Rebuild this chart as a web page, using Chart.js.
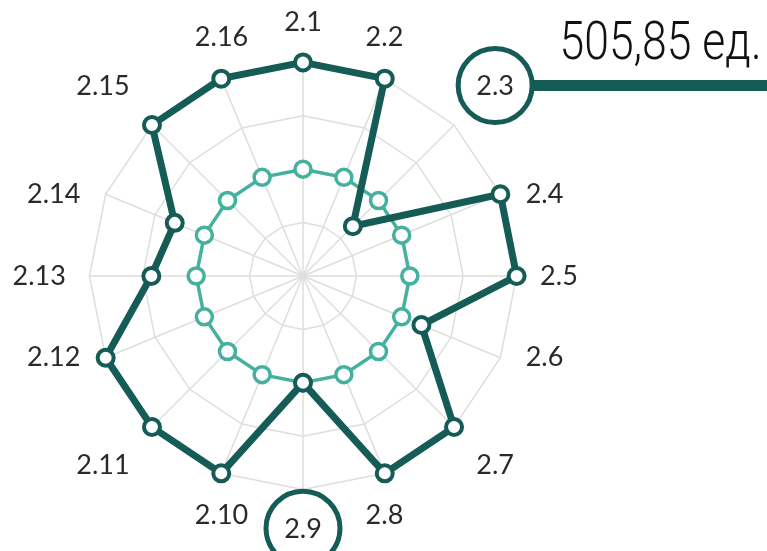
<!DOCTYPE html>
<html>
<head>
<meta charset="utf-8">
<script src="https://cdn.jsdelivr.net/npm/chart.js@4.4.1/dist/chart.umd.min.js"></script>
<style>
  html, body { margin: 0; padding: 0; background: #ffffff; }
  #wrap { position: relative; width: 767px; height: 551px; overflow: hidden; }
  #chart { position: absolute; left: 0; top: 0; }
  #note {
    position: absolute; right: 5px; top: 15px;
    font-family: Roboto, "Open Sans", sans-serif; font-weight: 300;
    font-size: 53px; line-height: 53px; color: #111;
    white-space: nowrap; transform: scaleX(0.84); transform-origin: right top;
  }
</style>
</head>
<body>
<div id="wrap">
  <canvas id="chart" width="767" height="551"></canvas>
  <div id="note">505,85 ед.</div>
</div>
<script>
const categories = ["2.1","2.2","2.3","2.4","2.5","2.6","2.7","2.8","2.9","2.10","2.11","2.12","2.13","2.14","2.15","2.16"];
const actualValues = [100, 100, 33, 100, 100, 60, 100, 100, 50, 100, 100, 100, 71, 65, 100, 100];
const baseValues   = [50, 50, 50, 50, 50, 50, 50, 50, 50, 50, 50, 50, 50, 50, 50, 50];
const highlighted  = ["2.3", "2.9"];
const scaleMax = 100;
const scaleStep = 25;

const DARK = '#165c56';
const TEAL = '#43b19e';

// Re-place point labels (Excel-like placement: centred on near-vertical axes,
// beside near-horizontal axes), starting from the scale's own geometry.
function placeLabels(scale) {
  const items = scale._pointLabelItems;
  if (!items) return;
  const n = items.length;
  items.forEach((it, i) => {
    const w = it.right - it.left;
    const h = it.bottom - it.top;
    const theta = (Math.PI * 2 * i) / n;           // from top, clockwise
    const s = Math.sin(theta), c = Math.cos(theta);
    const thetaEff = theta - 0.042 * Math.sin(4 * theta);
    const diag = Math.max(0, Math.abs(Math.sin(2 * theta)) - 0.8) / 0.2;
    const dist = scale.drawingArea + 23.5 + 8 * diag;
    const ax = scale.xCenter + dist * Math.sin(thetaEff);
    const ay = scale.yCenter - dist * Math.cos(thetaEff);
    const clamp = (v) => Math.max(0, Math.min(1, (Math.abs(v) - 0.4) / 0.3));
    const sx = Math.sign(s) * (Math.abs(s) < 1e-6 ? 0 : clamp(s));
    const cy = Math.sign(c) * (Math.abs(c) < 1e-6 ? 0 : clamp(c));
    const cxL = ax + sx * w / 2;
    const cyL = ay - cy * h / 2;
    it.textAlign = 'center';
    it.x = cxL;
    it.y = cyL - h / 2;
    it.left = cxL - w / 2; it.right = cxL + w / 2;
    it.top = cyL - h / 2; it.bottom = cyL + h / 2;
  });
}

const highlightPlugin = {
  id: 'highlightLabels',
  afterDraw(chart) {
    const scale = chart.scales.r;
    const items = scale._pointLabelItems || [];
    const ctx = chart.ctx;
    ctx.save();
    highlighted.forEach((name, k) => {
      const i = categories.indexOf(name);
      const it = items[i];
      if (!it) return;
      const cx = (it.left + it.right) / 2;
      const cy = (it.top + it.bottom) / 2 - 1;
      const rad = 37;
      ctx.beginPath();
      ctx.arc(cx, cy, rad, 0, Math.PI * 2);
      ctx.lineWidth = 5;
      ctx.strokeStyle = DARK;
      ctx.stroke();
      if (k === 0) {
        ctx.beginPath();
        ctx.moveTo(cx + rad + 1, cy);
        ctx.lineTo(chart.width, cy);
        ctx.lineWidth = 11;
        ctx.strokeStyle = DARK;
        ctx.stroke();
      }
    });
    ctx.restore();
  }
};

new Chart(document.getElementById('chart'), {
  type: 'radar',
  data: {
    labels: categories,
    datasets: [
      {
        data: actualValues,
        borderColor: DARK,
        borderWidth: 7,
        backgroundColor: 'rgba(0,0,0,0)',
        fill: false,
        pointRadius: 8,
        pointBorderWidth: 4,
        pointBackgroundColor: '#ffffff',
        pointBorderColor: DARK,
        tension: 0
      },
      {
        data: baseValues,
        borderColor: TEAL,
        borderWidth: 3.5,
        backgroundColor: 'rgba(0,0,0,0)',
        fill: false,
        pointRadius: 8,
        pointBorderWidth: 3.5,
        pointBackgroundColor: '#ffffff',
        pointBorderColor: TEAL,
        tension: 0
      }
    ]
  },
  options: {
    responsive: false,
    animation: false,
    layout: { padding: { left: 0, right: 176, top: 8, bottom: 6 } },
    plugins: { legend: { display: false }, tooltip: { enabled: false } },
    scales: {
      r: {
        min: 0,
        max: scaleMax,
        ticks: { display: false, stepSize: scaleStep },
        grid: { color: '#dedede', lineWidth: 1.5 },
        angleLines: { color: '#dedede', lineWidth: 1.5 },
        pointLabels: {
          padding: 22,
          color: '#2a2a2a',
          font: { family: 'Lato, "Open Sans", sans-serif', size: 27 }
        },
        afterFit: placeLabels
      }
    }
  },
  plugins: [highlightPlugin]
});
</script>
</body>
</html>
